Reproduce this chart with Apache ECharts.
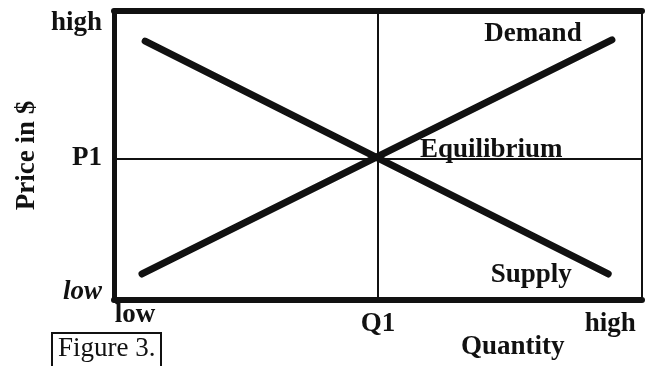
<!DOCTYPE html>
<html>
<head>
<meta charset="utf-8">
<style>
  html, body { margin: 0; padding: 0; background: #fff; }
  #chart { width: 647px; height: 366px; }
</style>
<script src="https://cdn.jsdelivr.net/npm/echarts@6/dist/echarts.min.js"></script>
</head>
<body>
<div id="chart"></div>
<script>
// quantity / price on a 0..100 scale
var xTicks = [4, 50, 94];
var xTickLabels = ['low', 'Q1', 'high'];
var yTicks = [2.8, 49, 96];
var yTickLabels = ['low', 'P1', 'high'];
var q1 = 50;
var p1 = 49;
// rising line (labelled Demand) and falling line (labelled Supply)
var demandX = [5.3, 94.3];
var demandY = [9, 90];
var supplyX = [5.9, 93.6];
var supplyY = [89.6, 9];

var font = 'Liberation Serif';
var myChart = echarts.init(document.getElementById('chart'));

function pts(xs, ys) {
    return xs.map(function (x, i) { return [x, ys[i]]; });
}

var labelText = { fontFamily: font, fontSize: 27, fontWeight: 'bold', color: '#111' };

function endLabel(text, coord, offset) {
    return {
        coord: coord,
        label: Object.assign({ show: true, position: 'inside', formatter: text, offset: offset }, labelText)
    };
}

var option = {
    animation: false,
    title: [
        {
            text: 'Figure 3.',
            left: 52, top: 333,
            padding: [2, 6, 6, 6],
            borderColor: '#111', borderWidth: 2,
            textStyle: { fontFamily: font, fontSize: 27, fontWeight: 'normal', color: '#111' }
        },
        {
            text: 'Quantity',
            left: 461, top: 334,
            padding: 0,
            textStyle: { fontFamily: font, fontSize: 27, fontWeight: 'bold', color: '#111' }
        }
    ],
    grid: { left: 114, right: 5, top: 11, bottom: 66 },
    xAxis: [
        {
            type: 'value', min: 0, max: 100,
            splitLine: { show: false },
            axisTick: { show: false },
            axisLine: { onZero: false, lineStyle: { color: '#111', width: 6 } },
            axisLabel: {
                customValues: xTicks,
                margin: 2,
                formatter: function (v) {
                    var i = xTicks.indexOf(v);
                    return i === 0 ? '{a|' + xTickLabels[i] + '}' : '{b|' + xTickLabels[i] + '}';
                },
                rich: {
                    a: labelText,
                    b: Object.assign({ padding: [9, 0, 0, 0] }, labelText)
                }
            }
        },
        {
            type: 'value', min: 0, max: 100, position: 'top',
            splitLine: { show: false }, axisTick: { show: false }, axisLabel: { show: false },
            axisLine: { onZero: false, lineStyle: { color: '#111', width: 6 } }
        }
    ],
    yAxis: [
        {
            type: 'value', min: 0, max: 100,
            name: 'Price in $',
            nameLocation: 'middle',
            nameGap: 72,
            nameTextStyle: labelText,
            splitLine: { show: false },
            axisTick: { show: false },
            axisLine: { onZero: false, lineStyle: { color: '#111', width: 5 } },
            axisLabel: {
                customValues: yTicks,
                margin: 12,
                formatter: function (v) {
                    var i = yTicks.indexOf(v);
                    return i === 0 ? '{it|' + yTickLabels[i] + '}' : '{b|' + yTickLabels[i] + '}';
                },
                rich: {
                    it: Object.assign({}, labelText, { fontStyle: 'italic' }),
                    b: labelText
                }
            }
        },
        {
            type: 'value', min: 0, max: 100, position: 'right',
            splitLine: { show: false }, axisTick: { show: false }, axisLabel: { show: false },
            axisLine: { onZero: false, lineStyle: { color: '#111', width: 2 } }
        }
    ],
    series: [
        {
            name: 'Demand',
            type: 'line',
            data: pts(demandX, demandY),
            symbol: 'none',
            lineStyle: { color: '#111', width: 7, cap: 'round' },
            markLine: {
                silent: true,
                symbol: 'none',
                label: { show: false },
                lineStyle: { color: '#111', width: 2, type: 'solid' },
                data: [{ xAxis: q1 }, { yAxis: p1 }]
            },
            markPoint: {
                symbol: 'circle',
                symbolSize: 0,
                data: [
                    endLabel('Demand', [demandX[1], demandY[1]], [-79, -6]),
                    {
                        coord: [q1, p1],
                        label: Object.assign({
                            show: true, position: 'right', distance: 0,
                            formatter: 'Equilibrium', offset: [42, -8]
                        }, labelText)
                    }
                ]
            },
            z: 3
        },
        {
            name: 'Supply',
            type: 'line',
            data: pts(supplyX, supplyY),
            symbol: 'none',
            lineStyle: { color: '#111', width: 7, cap: 'round' },
            markPoint: {
                symbol: 'circle',
                symbolSize: 0,
                data: [endLabel('Supply', [supplyX[1], supplyY[1]], [-77, 1])]
            },
            z: 3
        }
    ]
};
myChart.setOption(option);
</script>
</body>
</html>
